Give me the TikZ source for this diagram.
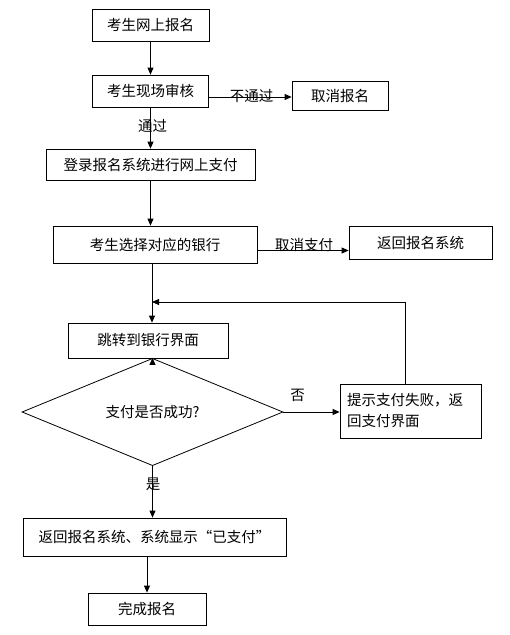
\documentclass[tikz,border=0pt]{standalone}
\usepackage{fontspec}
\setmainfont{Noto Sans CJK SC}
\usetikzlibrary{arrows.meta,shapes.geometric}

\begin{document}
\begin{tikzpicture}[x=1pt,y=-1pt,line width=0.8pt,
  font=\fontsize{14.5}{21}\selectfont,
  box/.style={draw,inner sep=0pt},
  arr/.style={-{Triangle[length=7pt,width=6pt]}}]
  \useasboundingbox (0,0) rectangle (510,635);
  \node[box,minimum width=117,minimum height=32] (reg) at (150.5,25) {考生网上报名};
  \node[box,minimum width=116,minimum height=32] (check) at (150.5,91) {考生现场审核};
  \node[box,minimum width=96,minimum height=29] (cancel) at (340,95.5) {取消报名};
  \node[box,minimum width=209,minimum height=31] (login) at (150.5,164.5) {登录报名系统进行网上支付};
  \node[box,minimum width=204,minimum height=37] (bank) at (155,244.5) {考生选择对应的银行};
  \node[box,minimum width=143,minimum height=33] (back) at (420.5,242.5) {返回报名系统};
  \node[box,minimum width=160,minimum height=35] (jump) at (148,340.5) {跳转到银行界面};
  \node[draw,diamond,inner sep=0pt,minimum width=261,minimum height=66] (ok) at (152.5,412) {支付是否成功?};
  \node[box,minimum width=141,minimum height=54,text width=127,align=left] (fail) at (410.5,411) {提示支付失败，返\\回支付界面};
  \node[box,minimum width=263,minimum height=38] (done) at (154.5,537) {返回报名系统、系统显示“已支付”};
  \node[box,minimum width=118,minimum height=32] (finish) at (147,609) {完成报名};
  \coordinate (loopin) at (152,302);

  \draw[arr] (reg.south) -- (check.north);
  \draw[arr] ([yshift=-6pt]check.east) -- ([yshift=-6pt]check.east -| cancel.west);
  \node (nopass) at (251.5,96) {不通过};
  \draw[arr] (check.south) -- (login.north);
  \node (pass) at (152.5,126) {通过};
  \draw[arr] (login.south) -- (login.south |- bank.north);
  \draw[arr] ([yshift=-6pt]bank.east) -- ([yshift=-6pt]bank.east -| back.west);
  \node (quit) at (304,245) {取消支付};
  \draw[arr] ([xshift=-3pt]bank.south) -- ([xshift=-3pt]bank.south |- jump.north);
  \draw[arr] ([xshift=-5.5pt]fail.north) |- (loopin);
  \draw[arr] (jump.south -| ok.north) -- (ok.north);
  \draw[arr] (ok.east) -- (ok.east -| fail.west);
  \node (no) at (297.5,395) {否};
  \draw[arr] (ok.south) -- (ok.south |- done.north);
  \node (yes) at (153,484) {是};
  \draw[arr] (finish.north |- done.south) -- (finish.north);
\end{tikzpicture}
\end{document}
